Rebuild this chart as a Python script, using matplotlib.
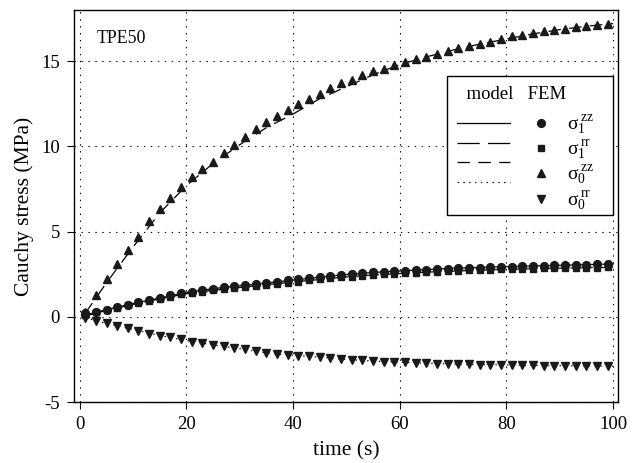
import numpy as np
import matplotlib
matplotlib.use("Agg")
import matplotlib.pyplot as plt
from matplotlib.patches import Rectangle

# FEM results, sampled every 2 s
fem_t = np.arange(1, 100, 2)
fem_s1_zz = [0.2, 0.3, 0.4, 0.57, 0.7, 0.84, 1.0, 1.1, 1.25, 1.38,
             1.48, 1.56, 1.63, 1.72, 1.78, 1.85, 1.92, 1.98, 2.06, 2.13,
             2.2, 2.26, 2.32, 2.39, 2.46, 2.51, 2.56, 2.6, 2.64, 2.67,
             2.71, 2.74, 2.77, 2.8, 2.82, 2.85, 2.87, 2.89, 2.91, 2.93,
             2.95, 2.97, 2.98, 3.0, 3.01, 3.03, 3.04, 3.06, 3.07, 3.09]
fem_s1_rr = [0.1, 0.28, 0.38, 0.54, 0.67, 0.8, 0.95, 1.05, 1.19, 1.31,
             1.41, 1.48, 1.55, 1.63, 1.69, 1.76, 1.82, 1.88, 1.95, 2.01,
             2.07, 2.13, 2.19, 2.25, 2.31, 2.36, 2.41, 2.45, 2.49, 2.52,
             2.56, 2.59, 2.62, 2.65, 2.67, 2.7, 2.72, 2.74, 2.76, 2.78,
             2.79, 2.81, 2.82, 2.84, 2.85, 2.86, 2.87, 2.88, 2.89, 2.9]
fem_s0_zz = [0.3, 1.3, 2.2, 3.1, 3.9, 4.7, 5.6, 6.3, 6.95, 7.6,
             8.2, 8.65, 9.1, 9.6, 10.1, 10.55, 11.0, 11.4, 11.8, 12.15,
             12.5, 12.8, 13.1, 13.4, 13.7, 13.9, 14.2, 14.4, 14.55, 14.75,
             14.95, 15.1, 15.25, 15.4, 15.6, 15.75, 15.9, 16.0, 16.1, 16.3,
             16.45, 16.55, 16.65, 16.75, 16.8, 16.9, 17.0, 17.05, 17.1, 17.2]
fem_s0_rr = [-0.05, -0.22, -0.39, -0.55, -0.66, -0.82, -0.98, -1.1, -1.2, -1.33,
             -1.45, -1.54, -1.65, -1.74, -1.83, -1.91, -2.01, -2.12, -2.19, -2.23,
             -2.28, -2.32, -2.37, -2.42, -2.47, -2.52, -2.56, -2.6, -2.63, -2.65,
             -2.68, -2.7, -2.72, -2.74, -2.76, -2.78, -2.79, -2.8, -2.81, -2.82,
             -2.83, -2.84, -2.85, -2.86, -2.87, -2.87, -2.88, -2.88, -2.89, -2.9]

# model curves
model_t = [1, 5, 10, 15, 20, 25, 30, 35, 40, 45, 50,
           55, 60, 65, 70, 75, 80, 85, 90, 95, 100]
model_s1_zz = [0.1, 0.42, 0.78, 1.1, 1.43, 1.65, 1.82, 1.98, 2.16, 2.32, 2.48,
               2.6, 2.69, 2.77, 2.84, 2.89, 2.94, 2.98, 3.02, 3.06, 3.1]
model_s1_rr = [0.05, 0.38, 0.73, 1.05, 1.36, 1.55, 1.72, 1.88, 2.04, 2.19, 2.34,
               2.45, 2.54, 2.62, 2.68, 2.74, 2.78, 2.82, 2.85, 2.88, 2.9]
model_s0_zz = [0.2, 2.0, 4.1, 6.1, 7.7, 9.0, 10.1, 11.1, 11.9, 12.8, 13.5,
               14.2, 14.8, 15.25, 15.65, 16.0, 16.3, 16.6, 16.85, 17.05, 17.2]
model_s0_rr = [-0.05, -0.39, -0.74, -1.1, -1.39, -1.65, -1.87, -2.12, -2.25, -2.37, -2.5,
               -2.6, -2.66, -2.72, -2.77, -2.8, -2.82, -2.85, -2.87, -2.88, -2.9]

labels = [r'$\sigma_1^{\,zz}$', r'$\sigma_1^{\,rr}$', r'$\sigma_0^{\,zz}$', r'$\sigma_0^{\,rr}$']

plt.rcParams['font.family'] = ['Liberation Serif', 'DejaVu Serif']
plt.rcParams['mathtext.fontset'] = 'custom'
plt.rcParams['mathtext.rm'] = 'Liberation Serif'
plt.rcParams['mathtext.it'] = 'Liberation Serif'
plt.rcParams['lines.scale_dashes'] = False

fig = plt.figure(figsize=(6.41, 4.63), dpi=100)
ax = fig.add_axes([0.1154, 0.1317, 0.8486, 0.8467])

mk = '#1a1a1a'
styles = ['-', (0, (16, 6)), (0, (9, 6)), (0, (1, 3.2))]
markers = [('o', 5.6), ('s', 4.8), ('^', 6.2), ('v', 6.2)]
model = [model_s1_zz, model_s1_rr, model_s0_zz, model_s0_rr]
fem = [fem_s1_zz, fem_s1_rr, fem_s0_zz, fem_s0_rr]

line_h, mark_h = [], []
for ys, ls in zip(model, styles):
    l, = ax.plot(model_t, ys, color='k', lw=0.9, linestyle=ls)
    line_h.append(l)
for ys, (m, s) in zip(fem, markers):
    p, = ax.plot(fem_t, ys, linestyle='none', marker=m, ms=s,
                 color=mk, mec=mk)
    mark_h.append(p)

ax.set_xlim(-1.1, 100.9)
ax.set_ylim(-5, 18)
ax.set_xticks([0, 20, 40, 60, 80, 100])
ax.set_yticks([-5, 0, 5, 10, 15])
ax.set_yticklabels(['-5', '0', '5', '10', '15'])
ax.grid(True, color='k', linestyle=(0, (1, 4)), linewidth=0.8)
ax.tick_params(direction='out', length=5, width=0.8, labelsize=13.5,
               pad=5, top=False, right=False)
for sp in ax.spines.values():
    sp.set_linewidth(1.0)

ax.set_xlabel('time (s)', fontsize=15.5, labelpad=6)
ax.set_ylabel('Cauchy stress (MPa)', fontsize=15.5, labelpad=5)
ax.text(3.2, 16.05, 'TPE50', fontsize=12.8)

# legend box drawn separately so its width can be set freely
box = Rectangle((0.6857, 0.477), 0.3051, 0.3546, transform=ax.transAxes,
                facecolor='white', edgecolor='k', lw=1.0, zorder=4.5)
ax.add_patch(box)
leg = ax.legend(line_h + mark_h, ['', '', '', ''] + labels, ncol=2,
                loc='upper left', bbox_to_anchor=(0.6857, 0.8316),
                title='  model   FEM', title_fontsize=13.5, alignment='left',
                fontsize=14, handlelength=2.73, handletextpad=0.0,
                columnspacing=0.23, numpoints=1, frameon=False,
                borderpad=0.5, labelspacing=0.1, borderaxespad=0.0)
leg._legend_box.sep = 8

fig.savefig('out.png', dpi=100)
